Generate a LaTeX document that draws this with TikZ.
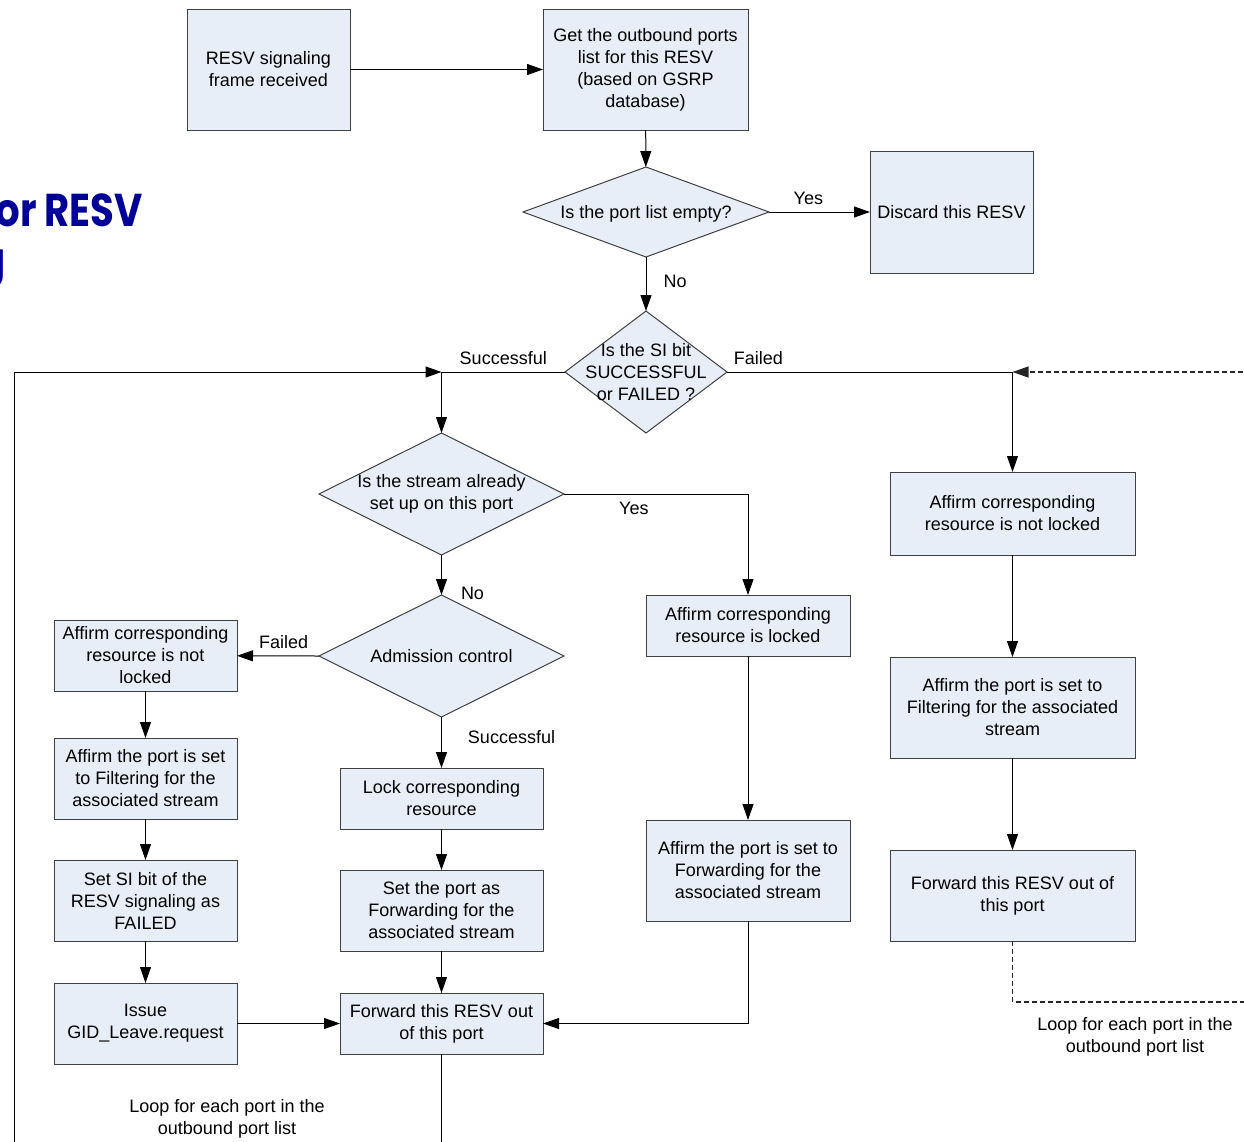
\documentclass[tikz,border=0pt]{standalone}
\usepackage{fontspec}
\setmainfont{Liberation Sans}
\newfontfamily\titlefont{Poppins}
\usetikzlibrary{arrows.meta,shapes.geometric}
\definecolor{boxfill}{RGB}{232,238,247}
\definecolor{boxline}{RGB}{64,64,64}
\definecolor{titleblue}{RGB}{0,0,153}
\begin{document}
\begin{tikzpicture}[x=1pt,y=-1pt,
  every node/.style={font=\fontsize{18}{22}\selectfont},
  box/.style={rectangle, draw=boxline, fill=boxfill, line width=1pt, align=center, inner sep=0pt, outer sep=0pt},
  dia/.style={diamond, draw=boxline, fill=boxfill, line width=1pt, inner sep=0pt, outer sep=0pt},
  lab/.style={inner sep=0pt, align=center},
  titletext/.style={anchor=base east, inner sep=0pt, font=\titlefont\bfseries\fontsize{46}{50}\selectfont, text=titleblue},
  arr/.style={draw=black, line width=1pt, -{Triangle[length=16pt,width=11pt]}},
  ln/.style={draw=black, line width=1pt},
  loopdash/.style={draw=black!85, line width=1.1pt, dash pattern=on 5pt off 3pt}
]
\useasboundingbox (0,0) rectangle (1244,1141);
\clip (0,0) rectangle (1244,1141);

% title fragments
\node[titletext] (t1) at (143,226) {\scalebox{0.84}[1]{Flow for RESV}};
\node[titletext] (t2) at (6,275) {\scalebox{0.84}[1]{processing}};

% top row
\node[box, minimum width=163pt, minimum height=121pt] (A) at (268.5,69.5) {RESV signaling\\frame received};
\node[box, minimum width=205pt, minimum height=121pt] (B) at (645.5,69.5) {Get the outbound ports\\list for this RESV\\(based on GSRP\\database)};
\node[dia, minimum width=246pt, minimum height=90pt, label={[lab, yshift=-2pt]center:Is the port list empty?}] (d1) at (646,212) {};
\node[box, minimum width=163pt, minimum height=122pt] (disc) at (951.5,212) {Discard this RESV};
\node[dia, minimum width=162pt, minimum height=122pt, label={[lab]center:Is the SI bit\\SUCCESSFUL\\or FAILED ?}] (d2) at (646,372) {};

% middle
\node[dia, minimum width=245pt, minimum height=122pt, label={[lab]center:Is the stream already\\set up on this port}] (d3) at (441.5,494) {};
\node[dia, minimum width=245pt, minimum height=122pt, label={[lab]center:Admission control}] (d4) at (441.5,656) {};

% left column
\node[box, minimum width=183pt, minimum height=71pt] (l1) at (145.5,655.5) {Affirm corresponding\\resource is not\\locked};
\node[box, minimum width=183pt, minimum height=81pt] (l2) at (145.5,778.5) {Affirm the port is set\\to Filtering for the\\associated stream};
\node[box, minimum width=183pt, minimum height=81pt] (l3) at (145.5,900.5) {Set SI bit of the\\RESV signaling as\\FAILED};
\node[box, minimum width=183pt, minimum height=81pt] (l4) at (145.5,1023.5) {Issue\\GID\_Leave.request};

% center column
\node[box, minimum width=203pt, minimum height=61pt] (c1) at (441.5,798.5) {Lock corresponding\\resource};
\node[box, minimum width=203pt, minimum height=81pt] (c2) at (441.5,910.5) {Set the port as\\Forwarding for the\\associated stream};
\node[box, minimum width=203pt, minimum height=61pt] (c3) at (441.5,1023.5) {Forward this RESV out\\of this port};

% middle-right column
\node[box, minimum width=204pt, minimum height=61pt] (m1) at (748,625.5) {Affirm corresponding\\resource is locked};
\node[box, minimum width=204pt, minimum height=101pt] (m2) at (748,870.5) {Affirm the port is set to\\Forwarding for the\\associated stream};

% right column
\node[box, minimum width=245pt, minimum height=83pt] (r1) at (1012.5,513.5) {Affirm corresponding\\resource is not locked};
\node[box, minimum width=245pt, minimum height=101pt] (r2) at (1012.5,707.5) {Affirm the port is set to\\Filtering for the associated\\stream};
\node[box, minimum width=245pt, minimum height=91pt] (r3) at (1012.5,895.5) {Forward this RESV out of\\this port};

% loop labels
\node[lab] (loopR) at (1135,1037) {Loop for each port in the\\outbound port list};
\node[lab] (loopL) at (227,1119) {Loop for each port in the\\outbound port list};

% junctions
\coordinate (sj) at (441.5,372);
\coordinate (fj) at (1012.5,372);
\coordinate (lb) at (14,1170);
\coordinate (lt) at (14,372);
\coordinate (rb) at (1270,1002);
\coordinate (rt) at (1270,372);

% connectors
\draw[arr] (A) -- (B);
\draw[arr] (B) -- (d1);
\draw[arr] (d1) -- node[lab, pos=0.39, yshift=14pt] {Yes} (disc);
\draw[arr] (d1) -- node[lab, pos=0.46, xshift=29pt] {No} (d2);
\draw[ln] (d2.west) -- node[lab, pos=0.5, yshift=14pt] {Successful} (sj);
\draw[arr] (sj) -- (d3.north);
\draw[ln] (d2.east) -- node[lab, pos=0.11, yshift=14pt] {Failed} (fj);
\draw[arr] (fj) -- (r1.north);
\draw[arr] (d3.east) -| node[lab, pos=0.19, yshift=-14pt] {Yes} (m1.north);
\draw[arr] (d3) -- node[lab, pos=0.97, xshift=31pt] {No} (d4);
\draw[arr] (d4.west) -- node[lab, pos=0.43, yshift=14pt] {Failed} (l1);
\draw[arr] (d4) -- node[lab, pos=0.39, xshift=70pt] {Successful} (c1);
\draw[arr] (c1) -- (c2);
\draw[arr] (c2) -- (c3);
\draw[arr] (l1) -- (l2);
\draw[arr] (l2) -- (l3);
\draw[arr] (l3) -- (l4);
\draw[arr] (l4) -- (c3);
\draw[arr] (m1) -- (m2);
\draw[arr] (m2) |- (c3);
\draw[arr] (r1) -- (r2);
\draw[arr] (r2) -- (r3);

% loops
\draw[arr] (c3.south) -- (c3.south |- lb) -- (lb) -- (lt) -- (sj);
\draw[loopdash, -{Triangle[length=16pt,width=11pt]}] (r3.south) -- (r3.south |- rb) -- (rb) -- (rt) -- (fj);
\end{tikzpicture}
\end{document}
